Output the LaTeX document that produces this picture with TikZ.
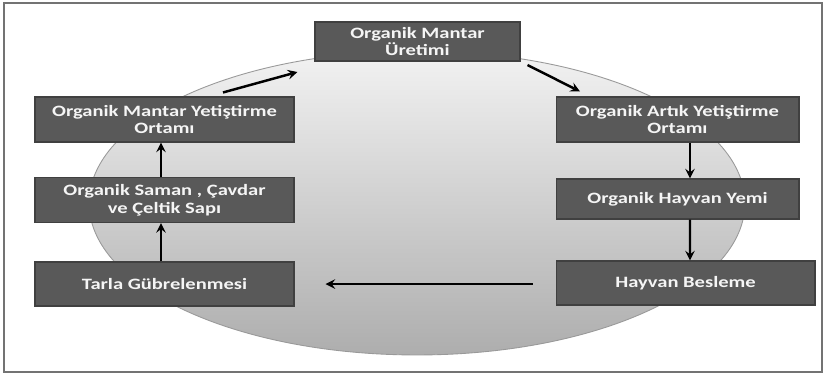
\documentclass[tikz,border=0pt]{standalone}
\usepackage{fontspec}
\setmainfont{Carlito}[FakeStretch=1.3]
\begin{document}
\begin{tikzpicture}[>=stealth, x=0.02cm, y=-0.02cm, font=\fontsize{9}{10.2}\selectfont\bfseries]
        \tikzset{box/.style={draw=black!75, fill=black!65, text=black!4, line width=0.6pt, minimum width=5.18cm, minimum height=0.9cm, align=center, inner sep=1pt}}
        \tikzset{link/.style={->, line width=1.4pt}}
        \useasboundingbox (0,0) rectangle (825,376);
        \draw[black!55, line width=0.9pt] (4,3) rectangle (822,372);
        \shade[top color=black!5, bottom color=black!32, draw=black!40, line width=0.5pt] (417,203) ellipse [x radius=6.56cm, y radius=3.04cm];
        \node[box, minimum width=4.1cm, minimum height=0.78cm] (uretim) at (417.5,41.5) {Organik Mantar\\Üretimi};
        \node[box] (ortam) at (164.5,119.5) {Organik Mantar Yetiştirme\\Ortamı};
        \node[box] (saman) at (164.5,200) {Organik Saman , Çavdar\\ve Çeltik Sapı};
        \node[box, minimum height=0.88cm] (tarla) at (164.5,284) {Tarla Gübrelenmesi};
        \node[box, minimum width=4.86cm] (artik) at (677.5,119.5) {Organik Artık Yetiştirme\\Ortamı};
        \node[box, minimum width=4.86cm, minimum height=0.8cm] (yem) at (677.5,199) {Organik Hayvan Yemi};
        \node[box, minimum height=0.88cm] (besleme) at (685.5,283) {Hayvan Besleme};
        \draw[link] ([shift={(58.5,-4)}]ortam.north) -- ([shift={(-17,30.5)}]uretim.west);
        \draw[link] ([shift={(7,23.5)}]uretim.east) -- ([shift={(-97.5,-5)}]artik.north);
        \draw[link] ([xshift=0.25cm]artik.south) -- ([xshift=0.25cm]yem.north);
        \draw[link] ([xshift=0.25cm]yem.south) -- ([xshift=0.09cm]besleme.north);
        \draw[link] ([shift={(-23,1)}]besleme.west) -- ([shift={(31,0)}]tarla.east);
        \draw[link] ([xshift=-0.07cm]tarla.north) -- ([xshift=-0.07cm]saman.south);
        \draw[link] ([xshift=-0.07cm]saman.north) -- ([xshift=-0.07cm]ortam.south);
    \end{tikzpicture}
\end{document}
